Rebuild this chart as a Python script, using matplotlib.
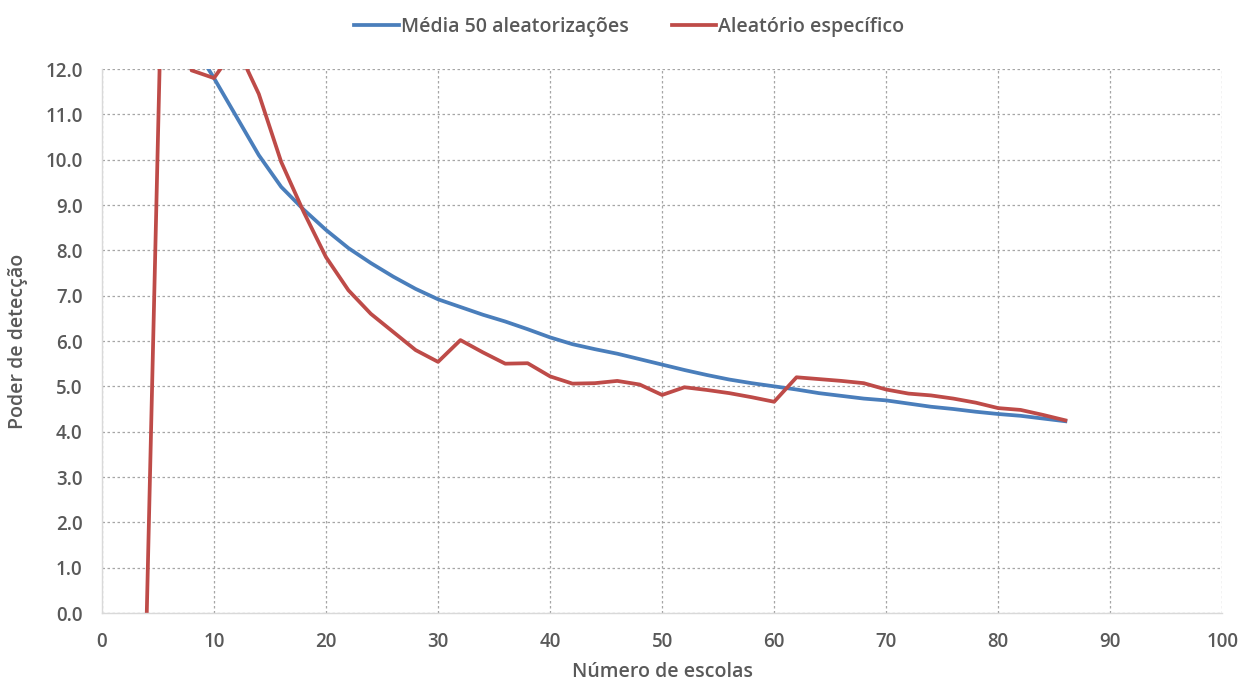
import numpy as np
import matplotlib
matplotlib.use("Agg")
import matplotlib.pyplot as plt
from matplotlib.ticker import FormatStrFormatter, MultipleLocator

plt.rcParams['font.family'] = ['Open Sans', 'DejaVu Sans']

# number of schools (x) and detection power for each series
escolas_media = [8, 10, 12, 14, 16, 18, 20, 22, 24, 26, 28, 30, 32, 34, 36, 38, 40,
                 42, 44, 46, 48, 50, 52, 54, 56, 58, 60, 62, 64, 66, 68, 70, 72,
                 74, 76, 78, 80, 82, 84, 86]
media_50 = [12.6, 11.8, 10.95, 10.1, 9.4, 8.9, 8.45, 8.05, 7.72, 7.42, 7.15, 6.92,
            6.75, 6.58, 6.43, 6.26, 6.08, 5.93, 5.82, 5.72, 5.6, 5.48, 5.36, 5.25,
            5.15, 5.07, 5.0, 4.93, 4.85, 4.79, 4.73, 4.69, 4.62, 4.55, 4.5, 4.44,
            4.39, 4.35, 4.29, 4.23]

escolas_especifico = [4, 6, 8, 10, 12, 14, 16, 18, 20, 22, 24, 26, 28, 30, 32, 34,
                      36, 38, 40, 42, 44, 46, 48, 50, 52, 54, 56, 58, 60, 62, 64,
                      66, 68, 70, 72, 74, 76, 78, 80, 82, 84, 86]
especifico = [0.0, 21.0, 11.97, 11.8, 12.5, 11.45, 9.95, 8.85, 7.85, 7.12, 6.6, 6.2,
              5.8, 5.54, 6.02, 5.75, 5.5, 5.51, 5.22, 5.06, 5.07, 5.12, 5.04, 4.81,
              4.98, 4.92, 4.85, 4.76, 4.66, 5.2, 5.16, 5.12, 5.07, 4.93, 4.84, 4.8,
              4.73, 4.64, 4.52, 4.48, 4.37, 4.25]

label_media = 'Média 50 aleatorizações'
label_especifico = 'Aleatório específico'

text_color = '#595959'

fig = plt.figure(figsize=(12.51, 6.86), dpi=100)
ax = fig.add_axes([0.0815, 0.1064, 0.8955, 0.793])

ax.plot(escolas_media, media_50, color='#4a7ebb', linewidth=2.7, label=label_media)
ax.plot(escolas_especifico, especifico, color='#be4b48', linewidth=2.7, label=label_especifico)

ax.set_xlim(0, 100)
ax.set_ylim(0, 12)
ax.xaxis.set_major_locator(MultipleLocator(10))
ax.yaxis.set_major_locator(MultipleLocator(1))
ax.yaxis.set_major_formatter(FormatStrFormatter('%.1f'))

ax.grid(True, color='#a6a6a6', linestyle=(0, (2, 2)), linewidth=0.9)
ax.set_axisbelow(True)
for side in ['top', 'right']:
    ax.spines[side].set_visible(False)
for side in ['left', 'bottom']:
    ax.spines[side].set_color('#d9d9d9')
    ax.spines[side].set_linewidth(1.0)

ax.tick_params(length=0, labelsize=13.5, labelcolor=text_color)
ax.tick_params(axis='y', pad=14)
ax.tick_params(axis='x', pad=14)
for lab in ax.get_xticklabels() + ax.get_yticklabels():
    lab.set_fontweight('semibold')

ax.set_xlabel('Número de escolas', fontsize=14, color=text_color, fontweight='semibold', labelpad=7)
ax.set_ylabel('Poder de detecção', fontsize=14, color=text_color, fontweight='semibold', labelpad=12)

fig.legend(loc='center', bbox_to_anchor=(0.503, 0.961), ncol=2, frameon=False,
           handlelength=2.3, handletextpad=0.1, columnspacing=2.2,
           labelcolor=text_color, prop={'weight': 'semibold', 'size': 14})

fig.savefig('out.png', dpi=100)
